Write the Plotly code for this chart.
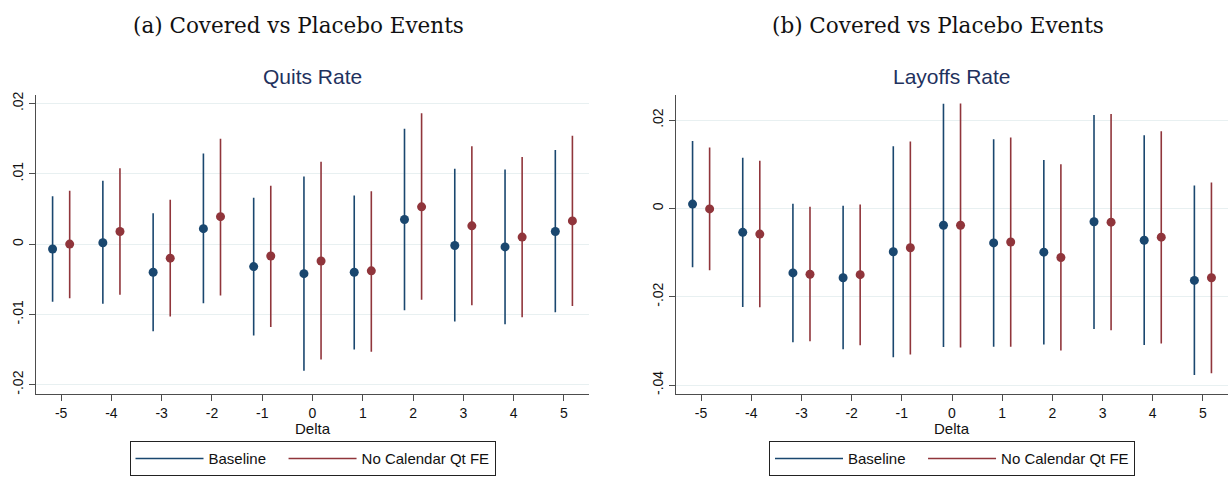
import plotly.graph_objects as go

delta = [-5, -4, -3, -2, -1, 0, 1, 2, 3, 4, 5]
x_ticktext = ["-5", "-4", "-3", "-2", "-1", "0", "1", "2", "3", "4", "5"]

# Quits rate (panel a)
quits_base = [-0.0007, 0.0002, -0.0040, 0.0022, -0.0032, -0.0042, -0.0040, 0.0035, -0.0002, -0.0004, 0.0018]
quits_base_hi = [0.0068, 0.0090, 0.0044, 0.0129, 0.0066, 0.0096, 0.0069, 0.0164, 0.0107, 0.0106, 0.0134]
quits_base_lo = [-0.0082, -0.0085, -0.0124, -0.0084, -0.0130, -0.0180, -0.0150, -0.0094, -0.0110, -0.0114, -0.0097]
quits_nofe = [0.0000, 0.0018, -0.0020, 0.0039, -0.0017, -0.0024, -0.0038, 0.0053, 0.0026, 0.0010, 0.0033]
quits_nofe_hi = [0.0076, 0.0108, 0.0063, 0.0150, 0.0083, 0.0117, 0.0075, 0.0186, 0.0139, 0.0124, 0.0154]
quits_nofe_lo = [-0.0077, -0.0072, -0.0103, -0.0073, -0.0118, -0.0164, -0.0153, -0.0079, -0.0087, -0.0104, -0.0088]

# Layoffs rate (panel b)
lay_base = [0.0010, -0.0054, -0.0146, -0.0157, -0.0098, -0.0038, -0.0078, -0.0099, -0.0030, -0.0072, -0.0163]
lay_base_hi = [0.0153, 0.0115, 0.0011, 0.0006, 0.0141, 0.0237, 0.0157, 0.0110, 0.0212, 0.0166, 0.0052]
lay_base_lo = [-0.0133, -0.0223, -0.0303, -0.0319, -0.0337, -0.0314, -0.0313, -0.0308, -0.0273, -0.0309, -0.0377]
lay_nofe = [-0.0001, -0.0058, -0.0149, -0.0150, -0.0089, -0.0038, -0.0076, -0.0111, -0.0031, -0.0065, -0.0157]
lay_nofe_hi = [0.0138, 0.0108, 0.0004, 0.0009, 0.0152, 0.0238, 0.0161, 0.0100, 0.0214, 0.0175, 0.0059]
lay_nofe_lo = [-0.0140, -0.0224, -0.0301, -0.0310, -0.0331, -0.0315, -0.0313, -0.0322, -0.0276, -0.0306, -0.0373]

quits_yticks = [-0.02, -0.01, 0, 0.01, 0.02]
quits_yticktext = ["-.02", "-.01", "0", ".01", ".02"]
lay_yticks = [-0.04, -0.02, 0, 0.02]
lay_yticktext = ["-.04", "-.02", "0", ".02"]

series_names = ["Baseline", "No Calendar Qt FE"]
panel_titles = ["(a) Covered vs Placebo Events", "(b) Covered vs Placebo Events"]
sub_titles = ["Quits Rate", "Layoffs Rate"]

NAVY = "#1a476f"
MAROON = "#90353b"
OFFSET = 0.17

fig = go.Figure()


def add_series(xa, ya, y, lo, hi, color, shift):
    fig.add_trace(go.Scatter(
        x=[d + shift for d in delta], y=y, mode="markers",
        marker=dict(color=color, size=9),
        error_y=dict(type="data", symmetric=False,
                     array=[h - v for h, v in zip(hi, y)],
                     arrayminus=[v - l for v, l in zip(y, lo)],
                     width=0, thickness=1.6, color=color),
        xaxis=xa, yaxis=ya, showlegend=False, hoverinfo="x+y"))


add_series("x", "y", quits_base, quits_base_lo, quits_base_hi, NAVY, -OFFSET)
add_series("x", "y", quits_nofe, quits_nofe_lo, quits_nofe_hi, MAROON, OFFSET)
add_series("x2", "y2", lay_base, lay_base_lo, lay_base_hi, NAVY, -OFFSET)
add_series("x2", "y2", lay_nofe, lay_nofe_lo, lay_nofe_hi, MAROON, OFFSET)

# legend entries (lines only); trailing no-break spaces only widen the gap between entries
legend_pad = ["\u00a0\u00a0\u00a0", ""]
for leg, xa, ya in [("legend", "x", "y"), ("legend2", "x2", "y2")]:
    for name, pad, color in zip(series_names, legend_pad, [NAVY, MAROON]):
        fig.add_trace(go.Scatter(x=[None], y=[None], mode="lines", name=name + pad,
                                 line=dict(color=color, width=1.5),
                                 xaxis=xa, yaxis=ya, legend=leg, showlegend=True))

AXIS_COLOR = "#4d4d4d"
GRID = "#e8f0f1"
tickfont = dict(family="Liberation Sans, Arial, sans-serif", size=14, color="#111")

ydom = [1 - 394 / 477, 1 - 92 / 477]
xdom1 = [36 / 1231, 589 / 1231]
xdom2 = [676 / 1231, 1228 / 1231]

xcommon = dict(range=[-5.5, 5.5], tickvals=delta, ticktext=x_ticktext, ticks="outside",
               ticklen=6, tickcolor=AXIS_COLOR, tickwidth=1.2, showline=True,
               linecolor=AXIS_COLOR, linewidth=1.4, showgrid=False, zeroline=False,
               tickfont=tickfont)
ycommon = dict(ticks="outside", ticklen=6, tickcolor=AXIS_COLOR, tickwidth=1.2, showline=True,
               linecolor=AXIS_COLOR, linewidth=1.4, showgrid=True, gridcolor=GRID, gridwidth=1.3,
               zeroline=False, tickangle=-90, tickfont=tickfont)

legfont = dict(family="Liberation Sans, Arial, sans-serif", size=15, color="#111")

fig.update_layout(
    width=1231, height=477,
    margin=dict(l=0, r=0, t=0, b=0),
    paper_bgcolor="white", plot_bgcolor="white",
    xaxis=dict(domain=xdom1, anchor="y", **xcommon),
    yaxis=dict(domain=ydom, anchor="x", range=[-0.0213, 0.0212], tickvals=quits_yticks,
               ticktext=quits_yticktext, **ycommon),
    xaxis2=dict(domain=xdom2, anchor="y2", **xcommon),
    yaxis2=dict(domain=ydom, anchor="x2", range=[-0.042, 0.0257], tickvals=lay_yticks,
                ticktext=lay_yticktext, **ycommon),
    legend=dict(orientation="h", x=312.5 / 1231, xanchor="center", y=1 - 459.5 / 477,
                yanchor="middle", bordercolor="#222", borderwidth=1, font=legfont,
                itemwidth=68),
    legend2=dict(orientation="h", x=952 / 1231, xanchor="center", y=1 - 459.5 / 477,
                 yanchor="middle", bordercolor="#222", borderwidth=1, font=legfont,
                 itemwidth=68),
    showlegend=True,
)

annotations = []
for title, cx in zip(panel_titles, [298.5, 938]):
    annotations.append(dict(text=title, x=cx / 1231, y=1 - 22 / 477, xref="paper", yref="paper",
                            xanchor="center", yanchor="middle", showarrow=False,
                            font=dict(family="DejaVu Serif, serif", size=21.5, color="#111")))
for title, cx in zip(sub_titles, [312.5, 952]):
    annotations.append(dict(text=title, x=cx / 1231, y=1 - 73 / 477, xref="paper", yref="paper",
                            xanchor="center", yanchor="middle", showarrow=False,
                            font=dict(family="Liberation Sans, Arial, sans-serif", size=21,
                                      color="#1f325e")))
for cx in [312.5, 952]:
    annotations.append(dict(text="Delta", x=cx / 1231, y=1 - 429 / 477, xref="paper", yref="paper",
                            xanchor="center", yanchor="middle", showarrow=False,
                            font=dict(family="Liberation Sans, Arial, sans-serif", size=15,
                                      color="#111")))
fig.update_layout(annotations=annotations)

fig.write_html("out.html")
